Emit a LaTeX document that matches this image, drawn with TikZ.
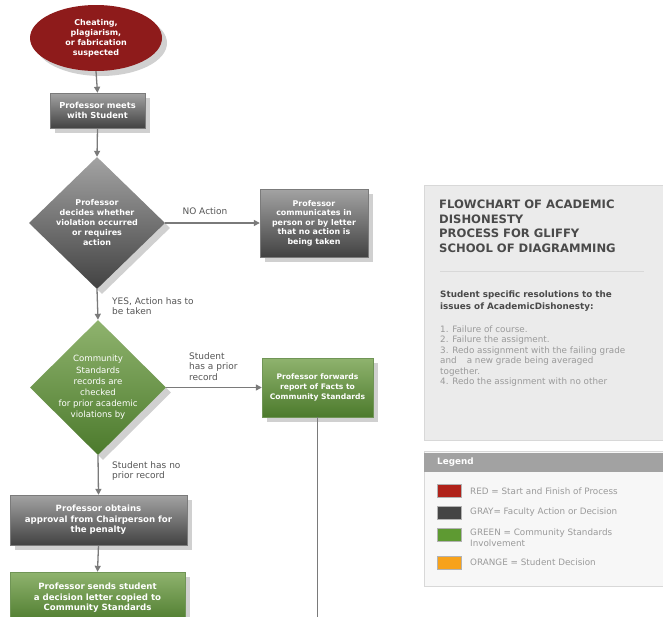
\documentclass[tikz,border=0pt]{standalone}
\usepackage{fontspec}
\setmainfont{DejaVu Sans}
\usetikzlibrary{shapes.geometric,arrows.meta,shadows}
\definecolor{shadowc}{HTML}{D0D0D0}
\definecolor{redfill}{HTML}{8E1B1B}
\definecolor{gtop}{HTML}{A3A3A3}
\definecolor{gbot}{HTML}{424242}
\definecolor{grtop}{HTML}{8FB36E}
\definecolor{grbot}{HTML}{4C7A2C}
\definecolor{conn}{HTML}{7A7A7A}
\definecolor{labc}{HTML}{555555}
\definecolor{panelfill}{HTML}{EBEBEB}
\definecolor{panelline}{HTML}{D8D8D8}
\definecolor{titlec}{HTML}{4A4A4A}
\definecolor{listc}{HTML}{9A9A9A}
\definecolor{legred}{HTML}{B0221A}
\definecolor{leggray}{HTML}{444444}
\definecolor{leggreen}{HTML}{5E9A32}
\definecolor{legorange}{HTML}{F7A21B}
\definecolor{leghead}{HTML}{A2A2A2}
\begin{document}
\begin{tikzpicture}[x=1pt,y=-1pt,
  shad/.style={drop shadow={shadow xshift=5pt,shadow yshift=-5pt,fill=shadowc,opacity=1}},
  nodetext/.style={text=white,font=\bfseries\fontsize{8}{10}\selectfont,align=center,inner sep=0pt},
  graybox/.style={rectangle,shad,top color=gtop,bottom color=gbot,draw=gbot!70,nodetext},
  greenbox/.style={rectangle,shad,top color=grtop,bottom color=grbot,draw=grbot!80,nodetext},
  decgray/.style={diamond,shad,top color=gtop,bottom color=gbot,nodetext,inner sep=-6pt},
  decgreen/.style={diamond,shad,top color=grtop,bottom color=grbot,nodetext,inner sep=-10pt},
  conline/.style={draw=conn,line width=1.3pt},
  arr/.style={conline,-{Triangle[width=6pt,length=6pt]}},
  elab/.style={text=labc,font=\fontsize{9}{10.5}\selectfont,align=left,inner sep=0pt},
  legtext/.style={text=listc,font=\fontsize{8.8}{11}\selectfont,align=left,inner sep=0pt,anchor=west},
  swatch/.style={rectangle,minimum width=24pt,minimum height=13pt,inner sep=0pt,draw=white!70!black}
]
\useasboundingbox (0,0) rectangle (663,616);
\clip (0,0) rectangle (663,616);
\fill[white] (0,0) rectangle (663,616);

% ---- flowchart nodes
\node[ellipse,shad,fill=redfill,nodetext,minimum width=132pt,minimum height=66pt] (start) at (96,38)
  {Cheating,\\plagiarism,\\or fabrication\\suspected};
\node[graybox,minimum width=95pt,minimum height=35pt,font=\bfseries\fontsize{8.3}{9.8}\selectfont] (meet) at (97.5,110.5)
  {Professor meets\\with Student};
\node[decgray,minimum width=136pt,minimum height=132pt] (dec1) at (97,223)
  {Professor\\decides whether\\violation occurred\\or requires\\action};
\node[graybox,minimum width=108pt,minimum height=68pt,font=\bfseries\fontsize{7.9}{9.5}\selectfont] (noact) at (314,223)
  {Professor\\communicates in\\person or by letter\\that no action is\\being taken};
\node[decgreen,minimum width=136pt,minimum height=135pt,font=\fontsize{8.6}{11.2}\selectfont] (dec2) at (98,387.5)
  {Community\\Standards\\records are\\checked\\for prior academic\\violations by};
\node[greenbox,minimum width=111pt,minimum height=59pt,font=\bfseries\fontsize{7.6}{10}\selectfont] (fwd) at (317.5,387.5)
  {Professor forwards\\report of Facts to\\Community Standards};
\node[graybox,minimum width=177pt,minimum height=50pt,font=\bfseries\fontsize{8.6}{10.5}\selectfont] (appr) at (98.5,520)
  {Professor obtains\\approval from Chairperson for\\the penalty};
\node[greenbox,minimum width=175pt,minimum height=52pt,font=\bfseries\fontsize{8.6}{10.5}\selectfont] (send) at (97.5,598)
  {Professor sends student\\a decision letter copied to\\Community Standards};
\coordinate (fwdend) at (317.5,630);

% ---- connectors
\draw[arr] (start.south) -- (meet.north);
\draw[arr] (meet.south) -- (dec1.north);
\draw[arr] (dec1.east) -- (noact.west);
\draw[arr] (dec1.south) -- (dec2.north);
\draw[arr] (dec2.east) -- (fwd.west);
\draw[arr] (dec2.south) -- (appr.north);
\draw[arr] (appr.south) -- (send.north);
\draw[conline] (fwd.south) -- (fwdend);

% ---- connector labels
\node[elab] (lno) at (205,211.5) {NO Action};
\node[elab,anchor=north west] (lyes) at (112,297) {YES, Action has to\\be taken};
\node[elab,anchor=north west] (lprior) at (189,352) {Student\\has a prior\\record};
\node[elab,anchor=north west] (lnoprior) at (112,461) {Student has no\\prior record};

% ---- info panel
\path[fill=panelfill,draw=panelline,line width=1pt] (424,185) rectangle (670,440);
\node[anchor=north west,inner sep=0pt,align=left,text=titlec,font=\bfseries\fontsize{11.6}{14.5}\selectfont] (title) at (439,200)
  {FLOWCHART OF ACADEMIC\\DISHONESTY\\PROCESS FOR GLIFFY\\SCHOOL OF DIAGRAMMING};
\draw[panelline,line width=1pt] (440,271) -- (644,271);
\node[anchor=north west,inner sep=0pt,align=left,text=titlec,font=\bfseries\fontsize{8.8}{12.5}\selectfont] (subt) at (440,290.5)
  {Student specific resolutions to the\\issues of AcademicDishonesty:};
\node[anchor=north west,inner sep=0pt,align=left,text=listc,font=\fontsize{8.8}{10.5}\selectfont] (list) at (440,325.5)
  {1. Failure of course.\\2. Failure the assigment.\\3. Redo assignment with the failing grade\\and\hspace{10pt}a new grade being averaged\\together.\\4. Redo the assignment with no other};

% ---- legend
\path[fill=white!97!black,draw=panelline,line width=1pt] (424,451) rectangle (670,586);
\path[fill=leghead] (424,453) rectangle (670,472);
\node[anchor=west,inner sep=0pt,text=white,font=\bfseries\fontsize{8.8}{9}\selectfont] (leghd) at (437,462.5) {Legend};
\node[swatch,fill=legred] (sred) at (449,490.5) {};
\node[swatch,fill=leggray] (sgray) at (449,512.5) {};
\node[swatch,fill=leggreen] (sgreen) at (449,534.5) {};
\node[swatch,fill=legorange] (sorange) at (449,562.5) {};
\node[legtext] (tred) at (470,491) {RED = Start and Finish of Process};
\node[legtext] (tgray) at (470,512) {GRAY= Faculty Action or Decision};
\node[legtext] (tgreen) at (470,537.5) {GREEN = Community Standards\\Involvement};
\node[legtext] (torange) at (470,562) {ORANGE = Student Decision};
\end{tikzpicture}
\end{document}
